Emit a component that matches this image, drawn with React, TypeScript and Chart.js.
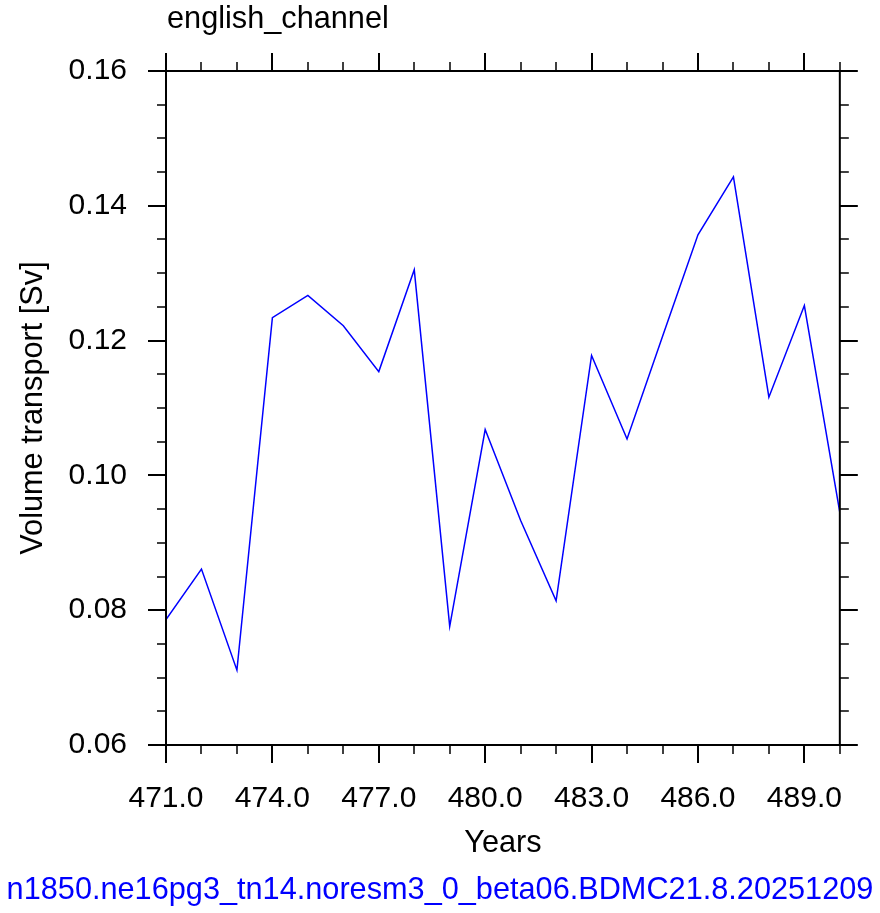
import React, { useEffect, useRef } from "react";
import { Chart, registerables } from "chart.js";

Chart.register(...registerables);

// Annual mean volume transport through the English Channel
const YEARS = [471, 472, 473, 474, 475, 476, 477, 478, 479, 480, 481, 482, 483, 484, 485, 486, 487, 488, 489, 490];
const TRANSPORT = [
  0.0786, 0.0861, 0.0711, 0.1234, 0.1267, 0.1222, 0.1154, 0.1305, 0.0776, 0.1068,
  0.0933, 0.0814, 0.1178, 0.1054, 0.1206, 0.1357, 0.1443, 0.1116, 0.1252, 0.0945,
];

const X_TICKS = [471, 474, 477, 480, 483, 486, 489];
const Y_TICKS = [0.06, 0.08, 0.1, 0.12, 0.14, 0.16];
const X_RANGE = [471, 490];
const Y_RANGE = [0.06, 0.16];
const X_MINOR_STEP = 1;
const Y_MINOR_STEP = 0.005;

const TITLE = "english_channel";
const X_TITLE = "Years";
const Y_TITLE = "Volume transport [Sv]";
const CASE_NAME = "n1850.ne16pg3_tn14.noresm3_0_beta06.BDMC21.8.20251209";

const FONT = "'Liberation Sans', Arial, Helvetica, sans-serif";

// Frame around the plot with outward major/minor ticks on all four sides, plus the titles
const framePlugin = {
  id: "ncarFrame",
  afterDraw(chart: any) {
    const { ctx, chartArea } = chart;
    const { left, right, top, bottom } = chartArea;
    const xs = chart.scales.x;
    const ys = chart.scales.y;
    const MAJOR = 18;
    const MINOR = 9;

    ctx.save();
    ctx.strokeStyle = "#000";
    ctx.lineCap = "butt";

    // minor ticks
    ctx.lineWidth = 1.5;
    ctx.beginPath();
    for (let v = X_RANGE[0]; v <= X_RANGE[1] + 1e-9; v += X_MINOR_STEP) {
      const px = Math.round(xs.getPixelForValue(v));
      ctx.moveTo(px, bottom);
      ctx.lineTo(px, bottom + MINOR);
      ctx.moveTo(px, top);
      ctx.lineTo(px, top - MINOR);
    }
    const nY = Math.round((Y_RANGE[1] - Y_RANGE[0]) / Y_MINOR_STEP);
    for (let i = 0; i <= nY; i++) {
      const v = Y_RANGE[0] + i * Y_MINOR_STEP;
      const py = Math.round(ys.getPixelForValue(v));
      ctx.moveTo(left, py);
      ctx.lineTo(left - MINOR, py);
      ctx.moveTo(right, py);
      ctx.lineTo(right + MINOR, py);
    }
    ctx.stroke();

    // major ticks
    ctx.lineWidth = 2;
    ctx.beginPath();
    for (const v of X_TICKS) {
      const px = Math.round(xs.getPixelForValue(v));
      ctx.moveTo(px, bottom);
      ctx.lineTo(px, bottom + MAJOR);
      ctx.moveTo(px, top);
      ctx.lineTo(px, top - MAJOR);
    }
    for (const v of Y_TICKS) {
      const py = Math.round(ys.getPixelForValue(v));
      ctx.moveTo(left, py);
      ctx.lineTo(left - MAJOR, py);
      ctx.moveTo(right, py);
      ctx.lineTo(right + MAJOR, py);
    }
    ctx.stroke();

    // frame
    ctx.lineWidth = 2;
    ctx.strokeRect(left, top, right - left, bottom - top);

    // texts
    const textFont = `30.7px ${FONT}`;
    ctx.font = textFont;
    ctx.fillStyle = "#000";
    ctx.textBaseline = "alphabetic";

    ctx.textAlign = "left";
    ctx.fillText(TITLE, left + 1, 28);

    ctx.textAlign = "center";
    ctx.fillText(X_TITLE, (left + right) / 2, 852);

    ctx.save();
    ctx.translate(42, (top + bottom) / 2);
    ctx.rotate(-Math.PI / 2);
    ctx.textAlign = "center";
    ctx.fillText(Y_TITLE, 0, 0);
    ctx.restore();

    ctx.fillStyle = "#0000ff";
    ctx.textAlign = "center";
    ctx.fillText(CASE_NAME, chart.width / 2, 899);

    ctx.restore();
  },
};

export default function App() {
  const canvasRef = useRef<HTMLCanvasElement | null>(null);

  useEffect(() => {
    const canvas = canvasRef.current;
    if (!canvas) return;

    const chart = new Chart(canvas, {
      type: "line",
      data: {
        datasets: [
          {
            label: TITLE,
            data: YEARS.map((y, i) => ({ x: y, y: TRANSPORT[i] })),
            borderColor: "#0000ff",
            borderWidth: 1.5,
            pointRadius: 0,
            tension: 0,
            fill: false,
          },
        ],
      },
      options: {
        animation: false,
        responsive: false,
        devicePixelRatio: 1,
        layout: { padding: { left: 0, right: 40, top: 71, bottom: 0 } },
        plugins: {
          legend: { display: false },
          title: { display: false },
          tooltip: { enabled: false },
        },
        scales: {
          x: {
            type: "linear",
            min: X_RANGE[0],
            max: X_RANGE[1],
            afterBuildTicks: (scale: any) => {
              scale.ticks = X_TICKS.map((v) => ({ value: v }));
            },
            afterFit: (scale: any) => {
              scale.height = 913 - 745;
            },
            grid: { display: false, drawTicks: false },
            border: { display: false },
            ticks: {
              autoSkip: false,
              maxRotation: 0,
              padding: 36,
              color: "#000",
              font: { family: FONT, size: 30 },
              callback: (v: any) => Number(v).toFixed(1),
            },
          },
          y: {
            type: "linear",
            min: Y_RANGE[0],
            max: Y_RANGE[1],
            afterBuildTicks: (scale: any) => {
              scale.ticks = Y_TICKS.map((v) => ({ value: v }));
            },
            afterFit: (scale: any) => {
              scale.width = 166;
            },
            grid: { display: false, drawTicks: false },
            border: { display: false },
            ticks: {
              autoSkip: false,
              padding: 39,
              color: "#000",
              font: { family: FONT, size: 30 },
              callback: (v: any) => Number(v).toFixed(2),
            },
          },
        },
      },
      plugins: [framePlugin],
    });

    return () => chart.destroy();
  }, []);

  return (
    <div style={{ position: "absolute", left: 0, top: 0, width: 880, height: 913, background: "#fff" }}>
      <canvas ref={canvasRef} width={880} height={913} style={{ display: "block" }} />
    </div>
  );
}
